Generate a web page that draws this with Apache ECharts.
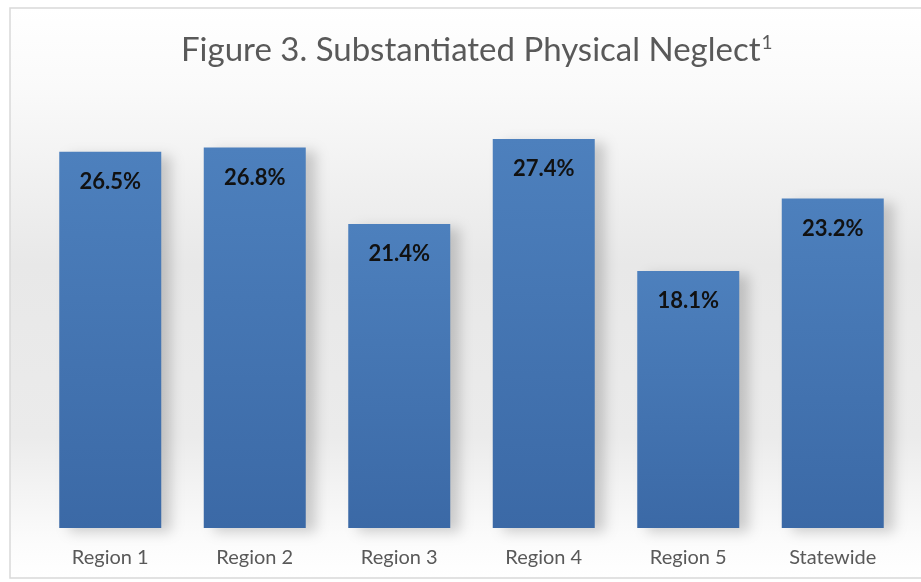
<!DOCTYPE html>
<html><head><meta charset="utf-8">
<script src="https://cdn.jsdelivr.net/npm/echarts@6/dist/echarts.min.js"></script>
<style>html,body{margin:0;padding:0;background:#fff}#c{width:921px;height:582px}</style>
</head><body><div id="c"></div>
<script>
const categories = ['Region 1','Region 2','Region 3','Region 4','Region 5','Statewide'];
const values = [26.5, 26.8, 21.4, 27.4, 18.1, 23.2];
const titleText = 'Figure 3. Substantiated Physical Neglect';
const titleSup = '1';

const chart = echarts.init(document.getElementById('c'));
const FONT = 'Lato, "Open Sans", sans-serif';
chart.setOption({
  animation: false,
  graphic: [
    { type: 'rect', z: -10, silent: true,
      shape: { x: 10, y: 8, width: 920, height: 570 },
      style: { stroke: '#d9d9d9', lineWidth: 1.5,
        fill: new echarts.graphic.LinearGradient(0, 0, 0, 1, [
          { offset: 0, color: '#ffffff' },
          { offset: 0.14, color: '#fafafa' },
          { offset: 0.45, color: '#e8e8e8' },
          { offset: 0.75, color: '#ebebeb' },
          { offset: 0.94, color: '#fcfcfc' },
          { offset: 1, color: '#ffffff' }
        ]) } }
  ],
  title: {
    text: titleText + '{sup|' + titleSup + '}',
    left: 176, top: 28,
    textStyle: { fontFamily: FONT, fontSize: 33, fontWeight: 'normal', color: '#595959',
      rich: { sup: { fontFamily: FONT, fontSize: 19, color: '#595959', verticalAlign: 'top', padding: [0,0,16,1] } } }
  },
  grid: { left: 38, right: 16, top: 102, bottom: 54 },
  xAxis: {
    type: 'category', data: categories,
    axisLine: { show: false }, axisTick: { show: false },
    axisLabel: { fontFamily: FONT, fontSize: 20, color: '#595959', margin: 20 }
  },
  yAxis: { type: 'value', min: 0, max: 30, show: false, splitLine: { show: false } },
  series: [{
    type: 'bar', data: values, barWidth: 102,
    itemStyle: {
      color: new echarts.graphic.LinearGradient(0, 0, 0, 1, [
        { offset: 0, color: '#4d80bd' },
        { offset: 1, color: '#3b69a6' }
      ]),
      shadowColor: 'rgba(0,0,0,0.18)', shadowBlur: 12, shadowOffsetX: 10, shadowOffsetY: 4
    },
    label: {
      show: true, position: 'insideTop', distance: 19,
      formatter: p => p.value.toFixed(1) + '%',
      fontFamily: FONT, fontSize: 22, fontWeight: 'bold', color: '#111'
    }
  }]
});
</script></body></html>
